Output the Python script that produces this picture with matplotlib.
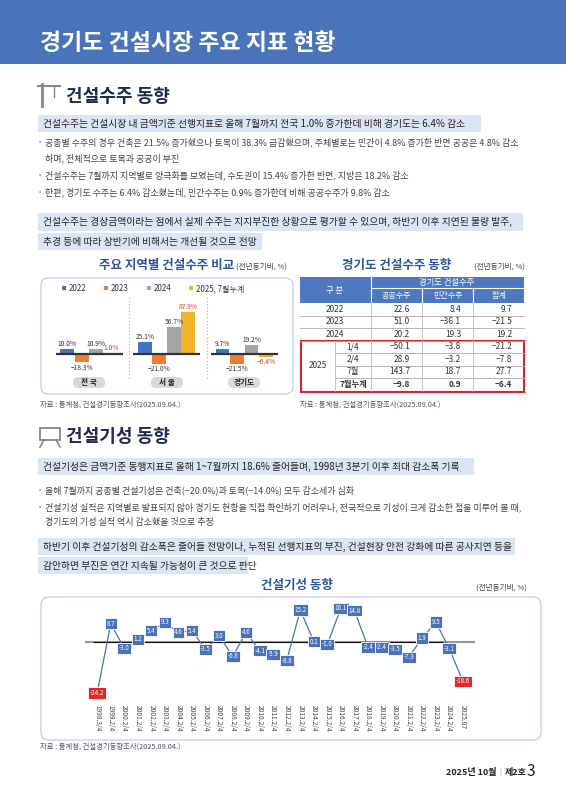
import matplotlib
matplotlib.use("Agg")
import matplotlib.pyplot as plt
from matplotlib.patches import FancyBboxPatch, Rectangle
import numpy as np

plt.rcParams['font.family'] = ['Noto Sans CJK KR', 'DejaVu Sans']

# ---- data ----
regions = ['전 국', '서 울', '경기도']
bar_years = ['2022', '2023', '2024', '2025, 7월누계']
v2022 = [10.0, 25.1, 9.7]
v2023 = [-18.3, -21.0, -21.5]
v2024 = [10.9, 56.7, 19.2]
v2025 = [1.0, 87.9, -6.4]

tbl_rows = ['2022', '2023', '2024', '1/4', '2/4', '7월', '7월누계']
public = [22.6, 51.0, 20.2, -50.1, 28.9, 143.7, -9.8]
private = [8.4, -36.1, 19.3, -3.8, -3.2, 18.7, 0.9]
total = [9.7, -21.5, 19.2, -21.2, -7.8, 27.7, -6.4]

periods = ['1998.3/4', '1999.2/4', '2000.2/4', '2001.2/4', '2002.2/4', '2003.2/4', '2004.2/4',
           '2005.2/4', '2006.2/4', '2007.2/4', '2008.2/4', '2009.2/4', '2010.2/4', '2011.2/4',
           '2012.2/4', '2013.2/4', '2014.2/4', '2015.2/4', '2016.2/4', '2017.2/4', '2018.2/4',
           '2019.2/4', '2020.2/4', '2021.2/4', '2022.2/4', '2023.2/4', '2024.2/4', '2025.07']
giseong = [-24.2, 8.7, -3.0, 1.2, 5.4, 9.3, 4.6, 5.4, -3.5, 3.0, -6.8, 4.6, -4.1, -5.9,
           -8.8, 15.2, 0.1, -1.0, 16.1, 14.8, -2.4, -2.4, -3.5, -7.3, 1.9, 9.5, -3.1, -18.6]

W, H = 566, 800
fig = plt.figure(figsize=(W / 100, H / 100), dpi=100)
bg = fig.add_axes([0, 0, 1, 1])
bg.set_xlim(0, W); bg.set_ylim(H, 0); bg.axis('off')

BLUE = '#4a74b9'; NAVY = '#1d2b4f'; HL = '#dbe5f3'; TXT = '#333333'; TITLEB = '#2e5597'

def ax_rect(x0, y0, x1, y1):
    return [x0 / W, 1 - y1 / H, (x1 - x0) / W, (y1 - y0) / H]

def T(x, y, s, size=6.5, color=TXT, weight='normal', ha='left', va='center', **kw):
    bg.text(x, y, s, fontsize=size, color=color, fontweight=weight, ha=ha, va=va, **kw)

# header
bg.add_patch(Rectangle((0, 0), W, 64, color=BLUE, lw=0))
T(40, 43, '경기도 건설시장 주요 지표 현황', size=16.5, color='white', weight='bold')

def section(y, title):
    T(66, y, title, size=13, color=NAVY, weight='bold')

def hlbox(y0, y1, x1, s):
    bg.add_patch(Rectangle((38, y0), x1 - 38, y1 - y0, color=HL, lw=0))
    T(43, (y0 + y1) / 2, s, size=7.05, color='#222222', weight='medium')

def bullet(y, s, indent=False):
    if not indent:
        T(39, y, '•', size=5, color='#6a8cc7')
    T(45, y, s, size=6.45, color='#444444')

# section 1 icon (crane)
bg.plot([42, 42], [84, 106], color='#888', lw=2)
bg.plot([38, 60], [86, 86], color='#888', lw=1.5)
bg.plot([54, 54], [86, 97], color='#888', lw=1)
section(96, '건설수주 동향')
hlbox(115, 132, 481, '건설수주는 건설시장 내 금액기준 선행지표로 올해 7월까지 전국 1.0% 증가한데 비해 경기도는 6.4% 감소')
bullet(142, '공종별 수주의 경우 건축은 21.5% 증가했으나 토목이 38.3% 급감했으며, 주체별로는 민간이 4.8% 증가한 반면 공공은 4.8% 감소')
bullet(158, '하며, 전체적으로 토목과 공공이 부진', indent=True)
bullet(175, '건설수주는 7월까지 지역별로 양극화를 보였는데, 수도권이 15.4% 증가한 반면, 지방은 18.2% 감소')
bullet(192, '한편, 경기도 수주는 6.4% 감소했는데, 민간수주는 0.9% 증가한데 비해 공공수주가 9.8% 감소')
hlbox(213, 231, 523, '건설수주는 경상금액이라는 점에서 실제 수주는 지지부진한 상황으로 평가할 수 있으며, 하반기 이후 지연된 물량 발주,')
hlbox(233, 250, 262, '추경 등에 따라 상반기에 비해서는 개선될 것으로 전망')

# bar chart panel
T(167, 265, '주요 지역별 건설수주 비교', size=9, color=TITLEB, weight='bold', ha='center')
T(236, 267, '(전년동기비, %)', size=5.5, color='#444')
bg.add_patch(FancyBboxPatch((41, 278), 252, 116, boxstyle='round,pad=0,rounding_size=8',
                            fc='white', ec='#c5d3ea', lw=1))
cols = ['#4472c4', '#ed7d31', '#a5a5a5', '#f2b527']
lx = [62, 104, 147, 189]
for x, c, lab in zip(lx, cols, bar_years):
    bg.add_patch(Rectangle((x, 286), 4, 4, color=c, lw=0))
    T(x + 7, 288.5, lab, size=5.8, color='#333')
for xs in (129, 207):
    bg.plot([xs, xs], [297, 380], color='#aaa', lw=0.8, ls=(0, (1, 2)))

axb = fig.add_axes(ax_rect(45, 309, 290, 368))
axb.axis('off')
axb.set_xlim(-0.57, 2.59); axb.set_ylim(-30, 95)
x = np.arange(3)
off = 0.187
for i, (vals, c) in enumerate(zip([v2022, v2023, v2024, v2025], cols)):
    xs = x + (i - 1.5) * off
    axb.bar(xs, vals, width=0.18, color=c, zorder=2)
    for xx, v in zip(xs, vals):
        col = '#e03c31' if i == 3 else '#333'
        axb.text(xx, v + (2 if v >= 0 else -3), f'{v:.1f}%' if v >= 0 else f'−{abs(v):.1f}%',
                 ha='center', va='bottom' if v >= 0 else 'top', fontsize=4.8, color=col)
axb.hlines(np.zeros(3), x - 0.43, x + 0.43, color='#333', lw=1.6, zorder=3)
for c_, r in zip([89, 167, 244], regions):
    bg.add_patch(FancyBboxPatch((c_ - 16, 377), 32, 11, boxstyle='round,pad=0,rounding_size=5',
                                fc='#d9d9d9', ec='none'))
    T(c_, 382.5, r, size=5.5, color='#222', weight='bold', ha='center')
T(40, 405, '자료 : 통계청, 건설경기동향조사(2025.09.04.)', size=5.3, color='#555')

# table
T(397, 265, '경기도 건설수주 동향', size=9, color=TITLEB, weight='bold', ha='center')
T(474, 267, '(전년동기비, %)', size=5.5, color='#444')
TB = '#4e79c1'
bg.add_patch(Rectangle((300, 277), 224, 26, color=TB, lw=0))
bg.plot([371, 371], [277, 303], color='white', lw=0.8)
bg.plot([371, 524], [288, 288], color='white', lw=0.8)
for xx in (422, 473):
    bg.plot([xx, xx], [288, 303], color='white', lw=0.8)
T(335, 290, '구 분', size=6, color='white', ha='center')
T(447, 282.5, '경기도 건설수주', size=6, color='white', ha='center')
for xx, s in zip([396.5, 447.5, 498.5], ['공공수주', '민간수주', '합계']):
    T(xx, 295.5, s, size=5.8, color='white', ha='center')
row_y = [303, 315.5, 328, 340.5, 353, 365.5, 378, 391]
for i, r in enumerate(tbl_rows):
    yc = (row_y[i] + row_y[i + 1]) / 2
    bold = 'bold' if r == '7월누계' else 'normal'
    if i < 3:
        T(335, yc, r, size=6, ha='center')
    else:
        T(353, yc, r, size=6, ha='center', weight=bold)
    for xx, v in zip([410, 461, 512], [public[i], private[i], total[i]]):
        s = f'{v:.1f}' if v >= 0 else f'−{abs(v):.1f}'
        T(xx, yc, s, size=6, ha='right', weight=bold)
    line_x0 = 300 if i < 3 else 335
    if i < 6:
        bg.plot([line_x0, 524], [row_y[i + 1]] * 2, color='#aaa', lw=0.6)
for xx in (371, 422, 473):
    bg.plot([xx, xx], [303, 391], color='#bbb', lw=0.6)
bg.plot([335, 335], [340.5, 391], color='#bbb', lw=0.6)
T(317.5, 365.5, '2025', size=6, ha='center')
bg.add_patch(Rectangle((301, 341), 223, 50.5, fill=False, ec='#d0262d', lw=1.5))
T(300, 405, '자료 : 통계청, 건설경기동향조사(2025.09.04.)', size=5.3, color='#555')

# section 2
bg.add_patch(Rectangle((40, 428), 20, 12, fill=False, ec='#888', lw=1.3))
bg.plot([44, 40], [440, 447], color='#888', lw=1.2)
bg.plot([56, 60], [440, 447], color='#888', lw=1.2)
section(437, '건설기성 동향')
hlbox(458, 475, 474, '건설기성은 금액기준 동행지표로 올해 1~7월까지 18.6% 줄어들며, 1998년 3분기 이후 최대 감소폭 기록')
bullet(490, '올해 7월까지 공종별 건설기성은 건축(−20.0%)과 토목(−14.0%) 모두 감소세가 심화')
bullet(507, '건설기성 실적은 지역별로 발표되지 않아 경기도 현황을 직접 확인하기 어려우나, 전국적으로 기성이 크게 감소한 점을 미루어 볼 때,')
bullet(523, '경기도의 기성 실적 역시 감소했을 것으로 추정', indent=True)
hlbox(538, 555, 515, '하반기 이후 건설기성의 감소폭은 줄어들 전망이나, 누적된 선행지표의 부진, 건설현장 안전 강화에 따른 공사지연 등을')
hlbox(557, 574, 248, '감안하면 부진은 연간 지속될 가능성이 큰 것으로 판단')

T(297, 585, '건설기성 동향', size=9, color=TITLEB, weight='bold', ha='center')
T(476, 588, '(전년동기비, %)', size=5.5, color='#444')
bg.add_patch(FancyBboxPatch((41, 597), 500, 143, boxstyle='round,pad=0,rounding_size=8',
                            fc='white', ec='#c5d3ea', lw=1))
axl = fig.add_axes(ax_rect(85, 602, 475, 701))
axl.set_xlim(-0.9, len(giseong) - 0.1); axl.set_ylim(-28, 19)
axl.patch.set_visible(False)
for s in axl.spines.values():
    s.set_visible(False)
xi = np.arange(len(giseong))
axl.axhline(0, color='#999', lw=1.5, zorder=1)
axl.hlines(0, -0.3, len(giseong) - 2.5, color='#111', lw=0.8, zorder=1)
axl.plot(xi, giseong, color='#4a72b8', lw=0.9, zorder=2)
for xx, v in zip(xi, giseong):
    red = v < -15
    axl.text(xx, v, f'{v:.1f}' if v >= 0 else f'-{abs(v):.1f}', ha='center', va='center',
             fontsize=4.5, color='white', zorder=3,
             bbox=dict(boxstyle='square,pad=0.25', fc='#e02a2a' if red else '#4a72b8',
                       ec='white', lw=0.6))
axl.set_yticks([])
axl.set_xticks(xi)
axl.set_xticklabels(periods, rotation=270, fontsize=4.8, color='#444')
axl.tick_params(axis='x', length=0, pad=3)
T(40, 747, '자료 : 통계청, 건설경기동향조사(2025.09.04.)', size=5.3, color='#555')

# footer
T(496, 772, '2025년 10월', size=6.5, color='#222', weight='bold', ha='right')
T(500, 772, '|', size=5.5, color='#999', ha='center')
T(505, 772, '제2호', size=6.5, color='#222', weight='bold')
T(527, 771, '3', size=11, color='#222', weight='light')

fig.savefig('out.png', dpi=100)
